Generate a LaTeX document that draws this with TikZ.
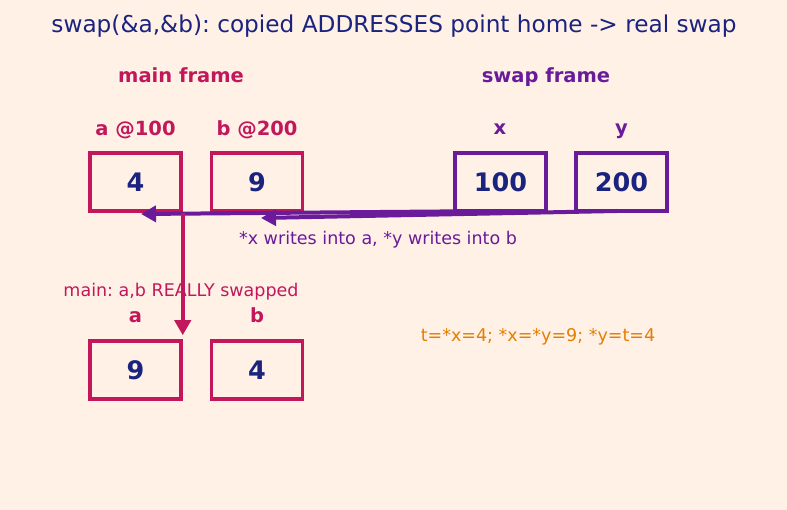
\documentclass[tikz,border=0pt]{standalone}
\usepackage{fontspec}
\setmainfont{DejaVu Sans}
\frenchspacing
\usetikzlibrary{arrows.meta}
\definecolor{bg}{HTML}{FFF1E6}
\definecolor{crim}{HTML}{C2185B}
\definecolor{purp}{HTML}{6A1B9A}
\definecolor{navy}{HTML}{1A237E}
\definecolor{orng}{HTML}{E67E00}
\begin{document}
\begin{tikzpicture}[x=1pt,y=-1pt,
  mbox/.style={draw=crim,line width=3.5pt,minimum width=91pt,minimum height=58pt,inner sep=0pt,font=\fontsize{25.5}{28}\selectfont\bfseries,text=navy},
  sbox/.style={mbox,draw=purp},
  lab/.style={anchor=base,font=\fontsize{19.5}{22}\selectfont\bfseries},
  note/.style={anchor=base,font=\fontsize{17.5}{20}\selectfont},
  arr/.style={line width=4pt,-{Triangle[length=15pt,width=16pt]}}]
\fill[bg] (0,0) rectangle (787,510);
\useasboundingbox (0,0) rectangle (787,510);
\node[anchor=base,text=navy,font=\fontsize{23.2}{26}\selectfont] (title) at (394,33) {swap(\&a,\&b): copied ADDRESSES point home -> real swap};
\node[lab,text=crim] (mf) at (181,83) {main frame};
\node[lab,text=purp] (sf) at (546,83) {swap frame};
\node[lab,text=crim] (la) at (135.5,136) {a @100};
\node[lab,text=crim] (lb) at (257,136) {b @200};
\node[lab,text=purp] (lx) at (500,135) {x};
\node[lab,text=purp] (ly) at (621.5,135) {y};
\node[mbox] (a) at (135.5,182) {4};
\node[mbox] (b) at (257,182) {9};
\node[sbox] (x) at (500.5,182) {100};
\node[sbox] (y) at (621.5,182) {200};
\node[mbox] (a2) at (135.5,370) {9};
\node[mbox] (b2) at (257,370) {4};
\node[lab,text=crim] (la2) at (135.5,323) {a};
\node[lab,text=crim] (lb2) at (257,323) {b};
\node[note,text=purp] (wn) at (378,244.5) {*x writes into a, *y writes into b};
\node[note,text=crim] (mn) at (181,296.5) {main: a,b REALLY swapped};
\node[note,text=orng] (tn) at (538,341.5) {t=*x=4; *x=*y=9; *y=t=4};
\coordinate (xs) at (500,211);
\coordinate (ys) at (617,211);
\draw[arr,purp] (xs) -- (141,214);
\draw[arr,purp] (ys) -- (261,218);
\draw[arr,crim,shorten >=4pt] (a.south east) -- (a2.north east);
\end{tikzpicture}
\end{document}
